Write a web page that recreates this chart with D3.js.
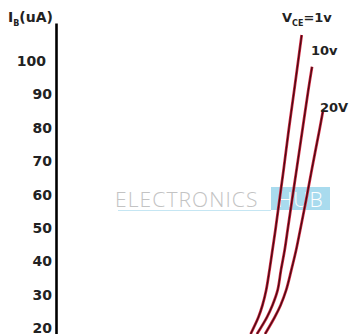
<!DOCTYPE html>
<html>
<head>
<meta charset="utf-8">
<script src="https://cdn.jsdelivr.net/npm/d3@7"></script>
<style>
  html, body { margin: 0; padding: 0; background: #fff; }
  svg { display: block; }
</style>
</head>
<body>
<svg id="chart" width="352" height="334"></svg>
<script>
// ---- data ----
const yTicks = [20, 30, 40, 50, 60, 70, 80, 90, 100];
const seriesNames = ["VCE=1v", "10v", "20V"];
// base current I_B (uA) and base-emitter voltage V_BE (V) for each curve
const ib1 = [18.3, 23.3, 26.9, 31.4, 37.4, 43.4, 49.4, 58.4, 67.3, 79.3, 91.3, 107.7];
const vbe1 = [0.526, 0.547, 0.558, 0.568, 0.577, 0.585, 0.593, 0.604, 0.615, 0.629, 0.644, 0.664];
const ib2 = [18.3, 23.3, 26.9, 31.4, 37.4, 43.4, 49.4, 58.4, 67.3, 79.3, 91.3, 98.2];
const vbe2 = [0.543, 0.570, 0.585, 0.599, 0.608, 0.618, 0.626, 0.638, 0.650, 0.666, 0.682, 0.692];
const ib3 = [18.3, 23.3, 26.9, 31.4, 37.4, 43.4, 49.4, 58.4, 67.3, 79.3, 85.3];
const vbe3 = [0.565, 0.591, 0.607, 0.622, 0.636, 0.649, 0.660, 0.676, 0.691, 0.712, 0.722];

const svg = d3.select("#chart");
const x = d3.scaleLinear().domain([0, 0.8]).range([56, 352]);
const y = d3.scaleLinear().domain([0, 111.3]).range([395.2, 23]);

// watermark
const wm = svg.append("g");
wm.append("rect").attr("x", 271).attr("y", 187).attr("width", 59).attr("height", 23)
  .attr("fill", "#a9dbee");
wm.append("text").attr("x", 115).attr("y", 206.5)
  .attr("font-family", "Open Sans, sans-serif").attr("font-size", 21).attr("font-weight", 300)
  .attr("letter-spacing", 1.1).attr("fill", "#c3c3c3").text("ELECTRONICS");
wm.append("text").attr("x", 300.5).attr("y", 206.5).attr("text-anchor", "middle")
  .attr("font-family", "Open Sans, sans-serif").attr("font-size", 21).attr("font-weight", 300)
  .attr("letter-spacing", 1.1).attr("fill", "#ffffff").text("HUB");
wm.append("line").attr("x1", 118).attr("x2", 271).attr("y1", 210.5).attr("y2", 210.5)
  .attr("stroke", "#c5e6f3").attr("stroke-width", 1.2);

const font = "DejaVu Sans, Verdana, sans-serif";

// axis
const yAxis = d3.axisLeft(y).tickValues(yTicks).tickSize(0).tickPadding(4).tickFormat(d3.format("d"));
const ag = svg.append("g").attr("transform", "translate(56,0)").call(yAxis);
ag.select(".domain").attr("stroke", "#000").attr("stroke-width", 2.6);
ag.selectAll(".tick text")
  .attr("font-family", font)
  .attr("font-weight", "bold").attr("font-size", 14).attr("fill", "#222")
  .attr("dx", d => d === 100 ? -6 : 0);

// curves
const line = d3.line().x(d => x(d[1])).y(d => y(d[0])).curve(d3.curveCatmullRom.alpha(0.5));
const data = [d3.zip(ib1, vbe1), d3.zip(ib2, vbe2), d3.zip(ib3, vbe3)];
const cg = svg.append("g");
cg.selectAll("path.outer").data(data).join("path").attr("class", "outer")
  .attr("d", line).attr("fill", "none").attr("stroke", "#d42a44").attr("stroke-width", 2.8);
cg.selectAll("path.inner").data(data).join("path").attr("class", "inner")
  .attr("d", line).attr("fill", "none").attr("stroke", "#4a0c14").attr("stroke-width", 1.4);

// labels
const t = svg.append("text").attr("x", 8).attr("y", 22)
  .attr("font-family", font).attr("font-weight", "bold").attr("font-size", 14).attr("fill", "#222");
t.append("tspan").text("I");
t.append("tspan").attr("font-size", 8).attr("dy", 4).text("B");
t.append("tspan").attr("dy", -4).text("(uA)");

const l1 = svg.append("text").attr("x", 282).attr("y", 22)
  .attr("font-family", font).attr("font-weight", "bold").attr("font-size", 13).attr("fill", "#222");
l1.append("tspan").text("V");
l1.append("tspan").attr("font-size", 8).attr("dy", 4).text("CE");
l1.append("tspan").attr("dy", -4).text("=1v");

svg.append("text").attr("x", 311).attr("y", 55)
  .attr("font-family", font).attr("font-weight", "bold").attr("font-size", 13).attr("fill", "#222")
  .text(seriesNames[1]);
svg.append("text").attr("x", 320).attr("y", 112)
  .attr("font-family", font).attr("font-weight", "bold").attr("font-size", 13).attr("fill", "#222")
  .text(seriesNames[2]);
</script>
</body>
</html>
